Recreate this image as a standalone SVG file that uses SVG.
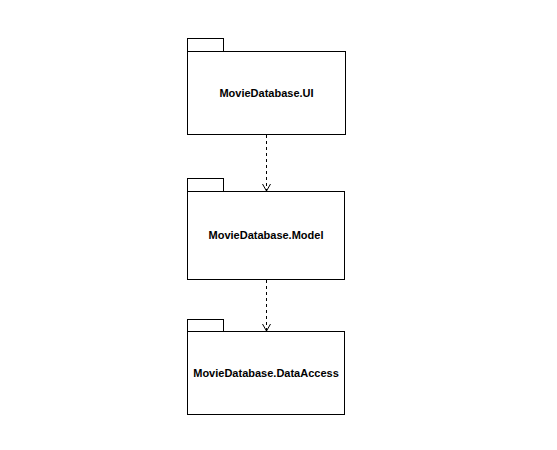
<svg xmlns="http://www.w3.org/2000/svg" width="557" height="450" viewBox="0 0 557 450">
<style>
.pkg{fill:#fff;stroke:#000;stroke-width:1}
.lbl{font-family:"Liberation Sans",Arial,sans-serif;font-size:11px;font-weight:bold;fill:#000;text-anchor:middle}
.dep{fill:none;stroke:#000;stroke-width:1;stroke-dasharray:3 3}
</style>
<defs>
<marker id="open" markerWidth="10" markerHeight="10" refX="8" refY="5" orient="auto" markerUnits="userSpaceOnUse">
<path d="M1,1 L8,5 L1,9" fill="none" stroke="#000" stroke-width="1"/>
</marker>
</defs>
<rect width="557" height="450" fill="#fff"/>
<g id="ui">
<rect class="pkg" x="187.5" y="38.5" width="36" height="13"/>
<rect class="pkg" x="187.5" y="51.5" width="158" height="83"/>
<text class="lbl" x="266.5" y="97">MovieDatabase.UI</text>
</g>
<g id="model">
<rect class="pkg" x="187.5" y="178.5" width="36" height="13"/>
<rect class="pkg" x="187.5" y="191.5" width="157" height="88"/>
<text class="lbl" x="266" y="239">MovieDatabase.Model</text>
</g>
<g id="dataaccess">
<rect class="pkg" x="187.5" y="319.5" width="36" height="12"/>
<rect class="pkg" x="187.5" y="331.5" width="157" height="83"/>
<text class="lbl" x="266" y="377">MovieDatabase.DataAccess</text>
</g>
<g id="connectors">
<path class="dep" d="M266.5,135 L266.5,191" marker-end="url(#open)"/>
<path class="dep" d="M266.5,280 L266.5,331" marker-end="url(#open)"/>
</g>
</svg>
